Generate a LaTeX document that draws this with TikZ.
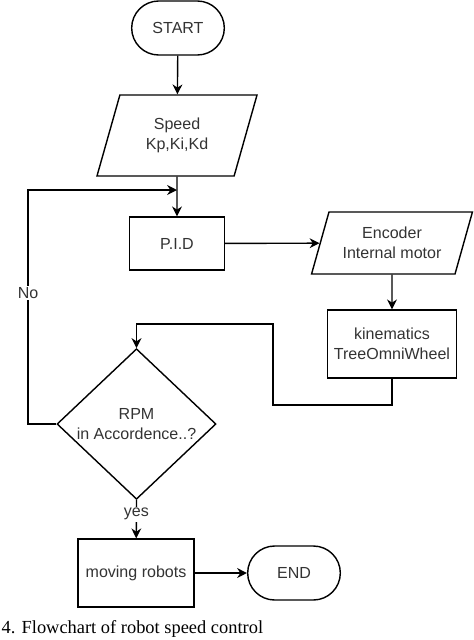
\documentclass[tikz,border=0pt]{standalone}
\usepackage{fontspec}
\setmainfont{Liberation Sans}
\newfontfamily\capfont{Liberation Serif}
\usetikzlibrary{arrows.meta,positioning,shapes.geometric,shapes.misc}
\tikzset{%
	terminal/.style = {draw, rounded rectangle, minimum width=2.55cm, minimum height=1.35cm, text centered},
	inout/.style    = {draw, trapezium, trapezium stretches=true, text centered, align=center},
	process/.style  = {draw, rectangle, text centered, align=center},
	decision/.style = {draw, diamond, inner sep=0pt, minimum width=3.975cm, minimum height=3.7cm, align=center},
	arrow/.style    = {line width=1pt, -{Stealth[length=7pt,width=7pt]}},
	tag/.style      = {fill=white, inner sep=1pt},
}

\begin{document}
\begin{tikzpicture}[x=0.025cm, y=-0.025cm, line width=1pt, text=black!80,
	font=\fontsize{11.4}{14.2}\selectfont]
	\useasboundingbox (0,0) rectangle (474,640);
	\node[terminal] (start) at (178,28) {START};
	\node[inout, trapezium left angle=72, trapezium right angle=108, minimum width=4.025cm, minimum height=2.025cm] (speed) at (177,135.5) {Speed\\Kp,Ki,Kd};
	\node[process, minimum width=2.375cm, minimum height=1.325cm] (pid) at (177,243.5) {P.I.D};
	\node[inout, trapezium left angle=70, trapezium right angle=110, minimum width=4.05cm, minimum height=1.55cm] (enc) at (392,243) {Encoder\\Internal motor};
	\node[process, minimum width=3.225cm, minimum height=1.7cm] (kin) at (392,344) {kinematics\\TreeOmniWheel};
	\node[decision] (dec) at (136.5,424) {RPM\\in Accordence..?};
	\node[process, minimum width=2.9cm, minimum height=1.7cm] (move) at (136,573) {moving robots};
	\node[terminal] (end) at (294,573) {END};
	\node[anchor=base west, inner sep=0pt, text=black, font=\capfont\fontsize{13.1}{15}\selectfont] (cap) at (1,633) {4. Flowchart of robot speed control};
	\coordinate (k1) at (273,405);
	\coordinate (k2) at (273,324);
	\coordinate (n1) at (28,190);
	\coordinate (join) at (177,190);
	\draw[arrow] (start) -- (speed);
	\draw[arrow] (speed) -- (pid);
	\draw[arrow] (pid) -- (enc);
	\draw[arrow] (enc) -- (kin);
	\draw[arrow] (kin.south) |- (k1) -- (k2) -| (dec.north);
	\draw[arrow] (dec.west) -| node[tag, pos=0.78] {No} (n1) -- (join);
	\draw[arrow] (dec.south) -- node[tag, pos=0.37] {yes} (move);
	\draw[arrow] (move) -- (end);
\end{tikzpicture}
\end{document}
